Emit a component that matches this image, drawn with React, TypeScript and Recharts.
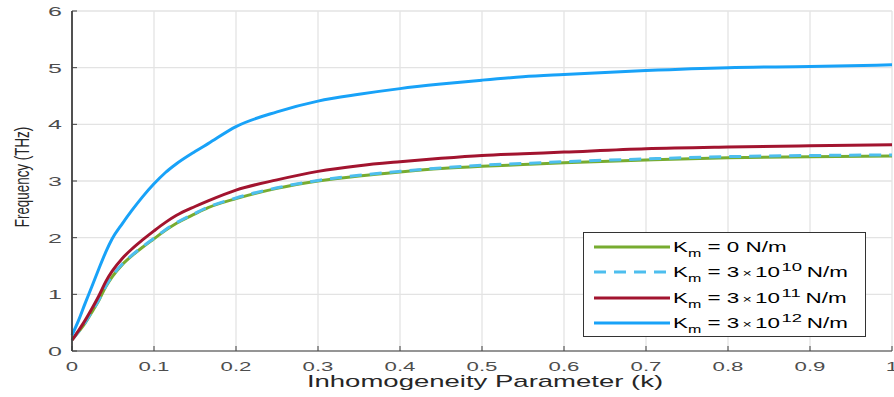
import React from "react";
import { LineChart, Line, XAxis, YAxis, CartesianGrid } from "recharts";

const kValues = [0, 0.008, 0.016, 0.024, 0.033, 0.041, 0.049, 0.061, 0.073, 0.086, 0.1, 0.114, 0.127, 0.15, 0.166, 0.2, 0.25, 0.3, 0.35, 0.4, 0.45, 0.5, 0.55, 0.6, 0.7, 0.8, 0.9, 1.0];
const km0 = [0.2, 0.34, 0.49, 0.68, 0.9, 1.13, 1.31, 1.52, 1.68, 1.83, 1.98, 2.13, 2.25, 2.42, 2.53, 2.69, 2.87, 3.0, 3.09, 3.16, 3.22, 3.26, 3.29, 3.32, 3.37, 3.41, 3.43, 3.44];
const km10 = [0.2, 0.34, 0.5, 0.69, 0.91, 1.14, 1.32, 1.53, 1.69, 1.84, 1.99, 2.14, 2.26, 2.43, 2.54, 2.7, 2.88, 3.01, 3.1, 3.17, 3.23, 3.28, 3.31, 3.34, 3.39, 3.43, 3.45, 3.46];
const km11 = [0.19, 0.36, 0.54, 0.74, 0.98, 1.22, 1.41, 1.63, 1.8, 1.96, 2.12, 2.27, 2.39, 2.55, 2.65, 2.84, 3.02, 3.17, 3.27, 3.34, 3.4, 3.45, 3.48, 3.51, 3.57, 3.6, 3.62, 3.64];
const km12 = [0.28, 0.54, 0.84, 1.13, 1.46, 1.74, 1.98, 2.24, 2.48, 2.72, 2.95, 3.15, 3.3, 3.52, 3.66, 3.96, 4.22, 4.41, 4.53, 4.63, 4.71, 4.78, 4.84, 4.88, 4.95, 5.0, 5.02, 5.05];

const xTicks = [0, 0.1, 0.2, 0.3, 0.4, 0.5, 0.6, 0.7, 0.8, 0.9, 1];
const yTicks = [0, 1, 2, 3, 4, 5, 6];
const xTitle = "Inhomogeneity Parameter (k)";
const yTitle = "Frequency (THz)";

const series = [
  { key: "km0", exp: "", color: "#77ac30", dash: undefined as string | undefined },
  { key: "km10", exp: "10", color: "#4dbeee", dash: "12 8" },
  { key: "km11", exp: "11", color: "#a2142f", dash: undefined },
  { key: "km12", exp: "12", color: "#18a2f8", dash: undefined },
];

const data = kValues.map((k, i) => ({ k, km0: km0[i], km10: km10[i], km11: km11[i], km12: km12[i] }));

const FONT = "'Liberation Sans', Arial, Helvetica, sans-serif";
const AX = "#404040";
const SX = 1.85;

const BottomTick = (props: any) => {
  const { x, y, payload } = props;
  const axisY = y - 12;
  return (
    <g>
      <line x1={x} x2={x} y1={axisY} y2={axisY - 5} stroke={AX} strokeWidth={1} />
      <text
        transform={`translate(${x},${y + 8}) scale(${SX},1)`}
        x={0}
        y={0}
        textAnchor="middle"
        fill="#4d4d4d"
        fontSize={12}
        fontFamily={FONT}
      >
        {payload.value}
      </text>
    </g>
  );
};

const TopTick = (props: any) => {
  const { x, y } = props;
  return <line x1={x} x2={x} y1={y} y2={y + 5} stroke={AX} strokeWidth={1} />;
};

const LeftTick = (props: any) => {
  const { x, y, payload } = props;
  const axisX = x + 10;
  return (
    <g>
      <line x1={axisX} x2={axisX + 5} y1={y} y2={y} stroke={AX} strokeWidth={1} />
      <text
        transform={`translate(${x},${y + 5}) scale(${SX},1)`}
        x={0}
        y={0}
        textAnchor="end"
        fill="#4d4d4d"
        fontSize={13.5}
        fontFamily={FONT}
      >
        {payload.value}
      </text>
    </g>
  );
};

const RightTick = (props: any) => {
  const { x, y } = props;
  return <line x1={x} x2={x - 5} y1={y} y2={y} stroke={AX} strokeWidth={1} />;
};

const XTitle = () => (
  <text
    transform="translate(485,387) scale(1.72,1)"
    x={0}
    y={0}
    textAnchor="middle"
    fill="#262626"
    fontSize={16}
    fontFamily={FONT}
  >
    {xTitle}
  </text>
);

const YTitle = () => (
  <text
    transform="translate(29,177) rotate(-90) scale(1,1.5)"
    x={0}
    y={0}
    textAnchor="middle"
    fill="#262626"
    fontSize={13.4}
    fontFamily={FONT}
  >
    {yTitle}
  </text>
);

const LegendBox = () => (
  <div
    style={{
      position: "absolute",
      left: 583,
      top: 232,
      width: 281,
      height: 103,
      border: "1px solid #333",
      background: "#fff",
      fontFamily: FONT,
      fontSize: 14,
      color: "#000",
    }}
  >
    {series.map((s, i) => (
      <div key={s.key} style={{ position: "absolute", left: 0, top: 3 + i * 25.3, height: 22, width: 281 }}>
        <svg width={80} height={22} style={{ position: "absolute", left: 9, top: 0 }}>
          <line x1={1} x2={77} y1={11} y2={11} stroke={s.color} strokeWidth={3} strokeDasharray={s.dash} />
        </svg>
        <div
          style={{
            position: "absolute",
            left: 89,
            top: 2,
            whiteSpace: "nowrap",
            lineHeight: "18px",
            transform: "scaleX(1.6)",
            transformOrigin: "0 0",
          }}
        >
          K<span style={{ fontSize: 10, position: "relative", top: 5 }}>m</span>
          {s.exp === "" ? (
            <span> = 0 N/m</span>
          ) : (
            <span>
              {" "}= 3<span style={{ fontSize: 10, margin: "0 2px" }}>×</span>10
              <span style={{ fontSize: 11.5, position: "relative", top: -6, marginLeft: 1 }}>{s.exp}</span>
              <span style={{ marginLeft: 3 }}>N/m</span>
            </span>
          )}
        </div>
      </div>
    ))}
  </div>
);

export default function App() {
  return (
    <div style={{ position: "fixed", left: 0, top: 0, width: 894, height: 397, background: "#fff", overflow: "hidden" }}>
      <LineChart width={894} height={397} data={data} margin={{ top: 11, right: 2, bottom: 0, left: 0 }}>
        <CartesianGrid xAxisId="b" yAxisId="l" stroke="#e3e3e3" strokeWidth={1.3} />
        <XAxis
          xAxisId="b"
          dataKey="k"
          type="number"
          domain={[0, 1]}
          ticks={xTicks}
          height={46}
          tickSize={0}
          tickMargin={12}
          tickLine={false}
          tick={<BottomTick />}
          axisLine={{ stroke: AX, strokeWidth: 1.2 }}
          interval={0}
          label={{ content: () => <XTitle /> }}
        />
        <XAxis
          xAxisId="t"
          orientation="top"
          dataKey="k"
          type="number"
          domain={[0, 1]}
          ticks={xTicks}
          height={0}
          tickSize={0}
          tickMargin={0}
          tickLine={false}
          tick={<TopTick />}
          axisLine={{ stroke: "#555", strokeWidth: 1 }}
          interval={0}
        />
        <YAxis
          yAxisId="l"
          type="number"
          domain={[0, 6]}
          ticks={yTicks}
          width={72}
          tickSize={0}
          tickMargin={10}
          tickLine={false}
          tick={<LeftTick />}
          axisLine={{ stroke: AX, strokeWidth: 1.8 }}
          interval={0}
          label={{ content: () => <YTitle /> }}
        />
        <YAxis
          yAxisId="r"
          orientation="right"
          type="number"
          domain={[0, 6]}
          ticks={yTicks}
          width={0}
          tickSize={0}
          tickMargin={0}
          tickLine={false}
          tick={<RightTick />}
          axisLine={{ stroke: AX, strokeWidth: 1 }}
          interval={0}
        />
        {series.map((s) => (
          <Line
            key={s.key}
            xAxisId="b"
            yAxisId="l"
            type="monotone"
            dataKey={s.key}
            stroke={s.color}
            strokeWidth={3}
            strokeDasharray={s.dash}
            dot={false}
            isAnimationActive={false}
          />
        ))}
      </LineChart>
      <LegendBox />
    </div>
  );
}
